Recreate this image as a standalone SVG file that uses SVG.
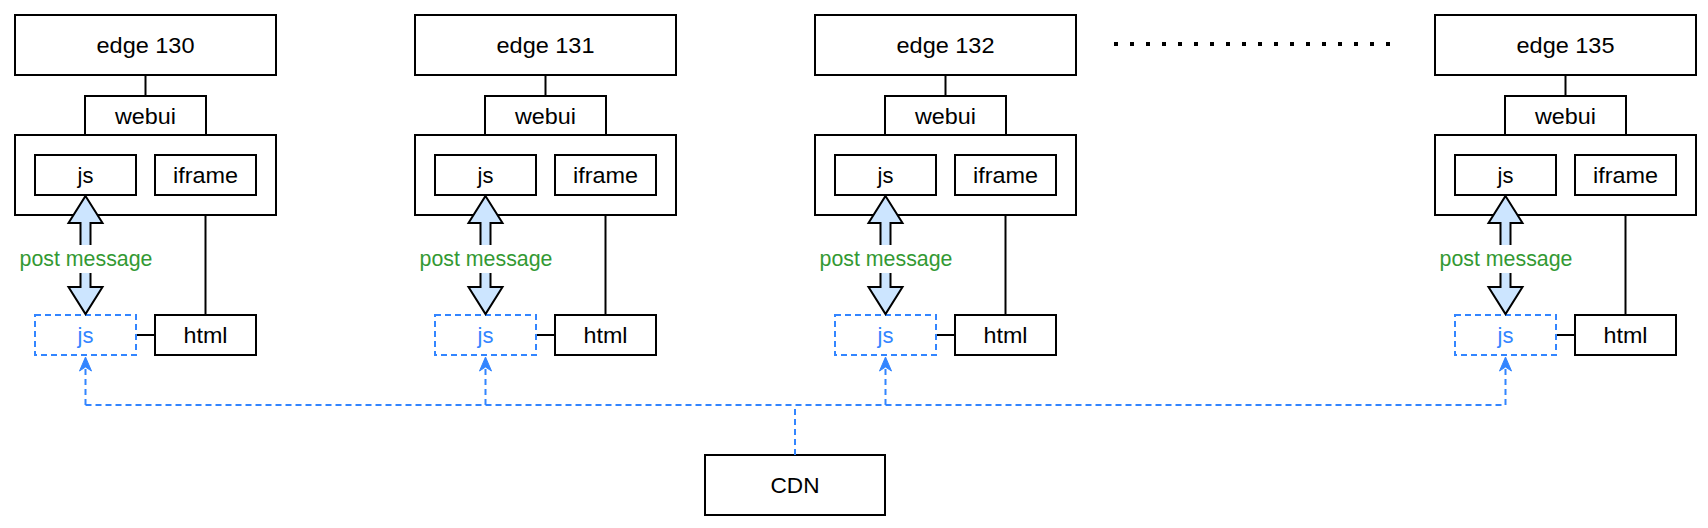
<svg xmlns="http://www.w3.org/2000/svg" width="1708" height="528" viewBox="0 0 1708 528">
<defs>
<style>
.box{fill:#fff;stroke:#000;stroke-width:2}
.dbox{fill:#fff;stroke:#3385ff;stroke-width:2;stroke-dasharray:6 4}
.t{font-family:"Liberation Sans",Arial,Helvetica,sans-serif;font-size:22px;fill:#000;text-anchor:middle}
.tb{font-family:"Liberation Sans",Arial,Helvetica,sans-serif;font-size:22px;fill:#3385ff;text-anchor:middle}
.tg{font-family:"Liberation Sans",Arial,Helvetica,sans-serif;font-size:21.5px;fill:#339933;text-anchor:middle}
.ln{stroke:#000;stroke-width:2;fill:none}
.dl{stroke:#3385ff;stroke-width:2;stroke-dasharray:6 4;fill:none}
.blk{fill:#cce5ff;stroke:#000;stroke-width:2;stroke-linejoin:miter}
</style>
<marker id="arr" viewBox="-15 -7 16 14" refX="0" refY="0" markerWidth="16" markerHeight="14" markerUnits="userSpaceOnUse" orient="auto">
<path d="M0,0 L-14,-6 L-10,0 L-14,6 Z" fill="#3385ff" stroke="#3385ff" stroke-width="1"/>
</marker>
<g id="unit">
<line class="ln" x1="145.5" y1="75" x2="145.5" y2="96"/>
<line class="ln" x1="205.5" y1="195" x2="205.5" y2="315"/>
<line class="ln" x1="136" y1="335" x2="155" y2="335"/>
<rect class="box" x="15" y="15" width="261" height="60"/>
<rect class="box" x="85" y="96" width="121" height="39"/>
<text class="t" x="145.5" y="123.5" textLength="61" lengthAdjust="spacingAndGlyphs">webui</text>
<rect class="box" x="15" y="135" width="261" height="80"/>
<rect class="box" x="35" y="155" width="101" height="40"/>
<text class="t" x="85.5" y="183">js</text>
<rect class="box" x="155" y="155" width="101" height="40"/>
<text class="t" x="205.5" y="183" textLength="65" lengthAdjust="spacingAndGlyphs">iframe</text>
<rect class="box" x="155" y="315" width="101" height="40"/>
<text class="t" x="205.5" y="343" textLength="44" lengthAdjust="spacingAndGlyphs">html</text>
<rect class="dbox" x="35" y="315" width="101" height="40"/>
<text class="tb" x="85.5" y="343">js</text>
<polygon class="blk" points="85.5,196 102.5,223 90.5,223 90.5,287 102.5,287 85.5,314 68.5,287 80.5,287 80.5,223 68.5,223"/>
<rect x="19" y="245" width="134" height="28" fill="#fff"/>
<text class="tg" x="86" y="266" textLength="133" lengthAdjust="spacingAndGlyphs">post message</text>
</g>
</defs>

<g id="edge130">
<use href="#unit"/>
<text class="t" x="145.5" y="53" textLength="98" lengthAdjust="spacingAndGlyphs">edge 130</text>
</g>
<g id="edge131" transform="translate(400,0)">
<use href="#unit"/>
<text class="t" x="145.5" y="53" textLength="98" lengthAdjust="spacingAndGlyphs">edge 131</text>
</g>
<g id="edge132" transform="translate(800,0)">
<use href="#unit"/>
<text class="t" x="145.5" y="53" textLength="98" lengthAdjust="spacingAndGlyphs">edge 132</text>
</g>
<g id="edge135" transform="translate(1420,0)">
<use href="#unit"/>
<text class="t" x="145.5" y="53" textLength="98" lengthAdjust="spacingAndGlyphs">edge 135</text>
</g>

<g id="ellipsis">
<line x1="1114" y1="44" x2="1390" y2="44" stroke="#000" stroke-width="4" stroke-dasharray="4 12"/>
</g>

<g id="cdn">
<rect class="box" x="705" y="455" width="180" height="60"/>
<text class="t" x="795" y="493" textLength="49" lengthAdjust="spacingAndGlyphs">CDN</text>
</g>

<g id="connectors">
<path class="dl" d="M795,455 V405"/>
<path class="dl" d="M85.5,405 H1505.5"/>
<path class="dl" d="M85.5,405 V357" marker-end="url(#arr)"/>
<path class="dl" d="M485.5,405 V357" marker-end="url(#arr)"/>
<path class="dl" d="M885.5,405 V357" marker-end="url(#arr)"/>
<path class="dl" d="M1505.5,405 V357" marker-end="url(#arr)"/>
</g>
</svg>
